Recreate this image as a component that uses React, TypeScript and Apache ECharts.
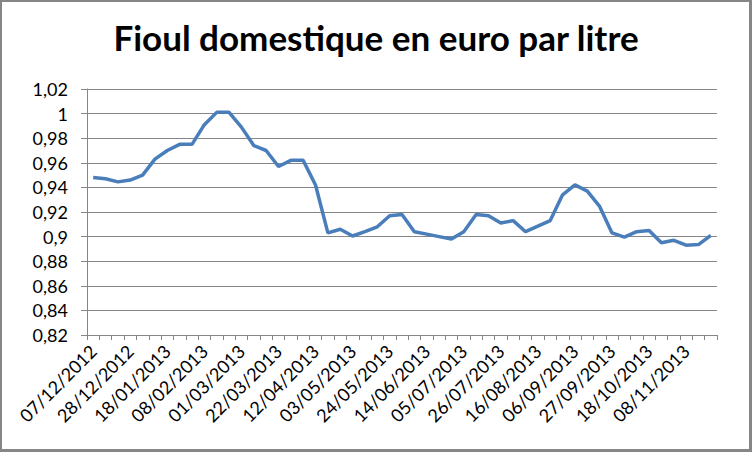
import React, { useEffect, useRef } from "react";
import * as echarts from "echarts";

const titleText = "Fioul domestique en euro par litre";

const dates = [
  "07/12/2012", "14/12/2012", "21/12/2012", "28/12/2012", "04/01/2013", "11/01/2013",
  "18/01/2013", "25/01/2013", "01/02/2013", "08/02/2013", "15/02/2013", "22/02/2013",
  "01/03/2013", "08/03/2013", "15/03/2013", "22/03/2013", "29/03/2013", "05/04/2013",
  "12/04/2013", "19/04/2013", "26/04/2013", "03/05/2013", "10/05/2013", "17/05/2013",
  "24/05/2013", "31/05/2013", "07/06/2013", "14/06/2013", "21/06/2013", "28/06/2013",
  "05/07/2013", "12/07/2013", "19/07/2013", "26/07/2013", "02/08/2013", "09/08/2013",
  "16/08/2013", "23/08/2013", "30/08/2013", "06/09/2013", "13/09/2013", "20/09/2013",
  "27/09/2013", "04/10/2013", "11/10/2013", "18/10/2013", "25/10/2013", "01/11/2013",
  "08/11/2013", "15/11/2013", "22/11/2013",
];

const prices = [
  0.948, 0.947, 0.9445, 0.946, 0.95, 0.963,
  0.97, 0.975, 0.975, 0.991, 1.001, 1.001,
  0.989, 0.974, 0.97, 0.957, 0.962, 0.962,
  0.942, 0.903, 0.906, 0.9005, 0.904, 0.908,
  0.917, 0.918, 0.904, 0.902, 0.9, 0.898,
  0.904, 0.918, 0.917, 0.911, 0.913, 0.904,
  0.9085, 0.913, 0.934, 0.942, 0.937, 0.9245,
  0.903, 0.8995, 0.904, 0.905, 0.895, 0.897,
  0.893, 0.8935, 0.901,
];

const yMin = 0.82;
const yMax = 1.02;
const yStep = 0.02;

const FONT = "Lato";
const GRID_COLOR = "#868686";

export default function App() {
  const ref = useRef<HTMLDivElement>(null);

  useEffect(() => {
    document.body.style.margin = "0";
    if (!ref.current) return;
    const chart = echarts.init(ref.current, null, { renderer: "svg" });
    chart.setOption({
      animation: false,
      backgroundColor: "#ffffff",
      title: {
        text: titleText,
        left: "center",
        top: 14,
        textStyle: {
          fontFamily: FONT,
          fontWeight: "bold",
          fontSize: 35,
          color: "#000000",
        },
      },
      grid: { left: 87, right: 35, top: 89, bottom: 117, containLabel: false },
      xAxis: {
        type: "category",
        data: dates,
        boundaryGap: true,
        axisLine: { show: true, lineStyle: { color: GRID_COLOR, width: 1 } },
        axisTick: { show: true, interval: 0, length: 5, lineStyle: { color: GRID_COLOR } },
        axisLabel: {
          interval: 2,
          rotate: 45,
          margin: 13,
          fontFamily: FONT,
          fontSize: 18,
          color: "#000000",
        },
        splitLine: { show: false },
      },
      yAxis: {
        type: "value",
        min: yMin,
        max: yMax,
        interval: yStep,
        axisLine: { show: true, lineStyle: { color: GRID_COLOR, width: 1 } },
        axisTick: { show: true, length: 6, lineStyle: { color: GRID_COLOR } },
        axisLabel: {
          margin: 19,
          fontFamily: FONT,
          fontSize: 18,
          color: "#000000",
          formatter: (v: number) => String(parseFloat(v.toFixed(2))).replace(".", ","),
        },
        splitLine: { show: true, lineStyle: { color: GRID_COLOR, width: 1 } },
      },
      series: [
        {
          type: "line",
          data: prices,
          symbol: "none",
          lineStyle: { color: "#4A7EBB", width: 3.5 },
          itemStyle: { color: "#4A7EBB" },
        },
      ],
    });
    return () => chart.dispose();
  }, []);

  return (
    <div style={{ position: "relative", width: 752, height: 452 }}>
      <div ref={ref} style={{ position: "absolute", left: 0, top: 0, width: 752, height: 452 }} />
      <div
        style={{
          position: "absolute",
          left: 0,
          top: 0,
          width: 752,
          height: 452,
          boxSizing: "border-box",
          borderStyle: "solid",
          borderColor: "#868686",
          borderWidth: "2px 3px 3px 2px",
          pointerEvents: "none",
        }}
      />
    </div>
  );
}
